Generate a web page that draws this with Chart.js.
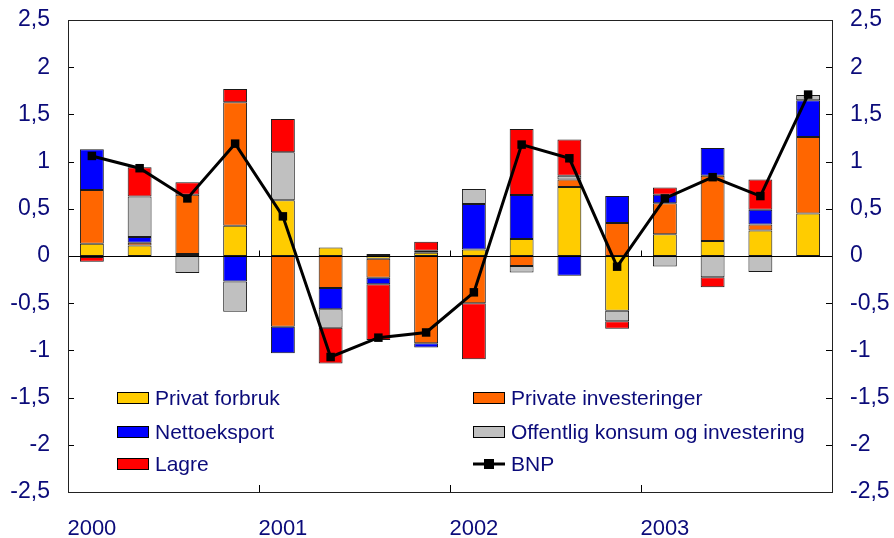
<!DOCTYPE html>
<html>
<head>
<meta charset="utf-8">
<script src="https://cdn.jsdelivr.net/npm/chart.js@4/dist/chart.umd.min.js"></script>
<style>
  html, body { margin: 0; padding: 0; background: #fff; }
  #wrap { width: 894px; height: 538px; }
</style>
</head>
<body>
<div id="wrap"><canvas id="bnpChart" width="894" height="538"></canvas></div>
<script>
// kvartaler 2000-2003
var kvartaler = ['2000K1','2000K2','2000K3','2000K4','2001K1','2001K2','2001K3','2001K4',
                 '2002K1','2002K2','2002K3','2002K4','2003K1','2003K2','2003K3','2003K4'];

// bidrag til BNP-vekst (prosentpoeng)
var privatForbruk = [0.13, 0.11, 0.02, 0.32, 0.59, 0.09, -0.03, 0.035, 0.07, 0.18, 0.73, -0.58, 0.23, 0.16, 0.27, 0.45];
var privateInv    = [0.57, 0.03, 0.63, 1.31, -0.75, -0.34, -0.20, -0.925, -0.50, -0.106, 0.08, 0.35, 0.33, 0.69, 0.065, 0.81];
var nettoeksport  = [0.43, 0.06, 0, -0.27, -0.28, -0.225, -0.07, -0.045, 0.48, 0.465, -0.21, 0.285, 0.09, 0.295, 0.155, 0.39];
var offentlig     = [-0.01, 0.43, -0.18, -0.32, 0.51, -0.195, 0.02, 0.02, 0.16, -0.07, 0.04, -0.11, -0.11, -0.225, -0.17, 0.055];
var lagre         = [-0.05, 0.31, 0.13, 0.14, 0.35, -0.38, -0.59, 0.095, -0.595, 0.70, 0.385, -0.08, 0.075, -0.105, 0.32, 0];
var bnp           = [1.06, 0.93, 0.61, 1.19, 0.42, -1.07, -0.865, -0.81, -0.385, 1.18, 1.035, -0.113, 0.61, 0.835, 0.635, 1.71];

var yTicks = [-2.5, -2, -1.5, -1, -0.5, 0, 0.5, 1, 1.5, 2, 2.5];

var navy = '#0b0b7a';
var fontFam = '"Liberation Sans", Arial, sans-serif';

function bar(label, data, color) {
  return {
    type: 'bar', label: label, data: data, backgroundColor: color,
    borderColor: '#1a1a1a', borderWidth: 1, borderSkipped: false,
    stack: 's', barPercentage: 0.5, categoryPercentage: 1, order: 2
  };
}

// tegner ramme, tikkmerker og forklaring
var tegnPlugin = {
  id: 'tegn',
  afterDatasetsDraw: function (chart) {
    var c = chart.ctx, a = chart.chartArea;
    var x = chart.scales.x, y = chart.scales.y;
    c.save();
    c.strokeStyle = '#000';
    c.lineWidth = 1;
    var y0 = Math.round(y.getPixelForValue(0)) + 0.5;
    // tikk paa venstre og hoyre akse
    yTicks.forEach(function (v) {
      var py = Math.round(y.getPixelForValue(v)) + 0.5;
      c.beginPath();
      c.moveTo(a.left, py); c.lineTo(a.left + 6, py);
      c.moveTo(a.right, py); c.lineTo(a.right - 6, py);
      c.stroke();
    });
    // aarsgrenser
    for (var i = 4; i < kvartaler.length; i += 4) {
      var px = Math.round((x.getPixelForValue(i - 1) + x.getPixelForValue(i)) / 2) + 0.5;
      c.beginPath();
      c.moveTo(px, a.bottom); c.lineTo(px, a.bottom - 7);
      c.moveTo(px, y0); c.lineTo(px, y0 - 6);
      c.stroke();
    }
    c.beginPath();
    c.moveTo(a.left, y0); c.lineTo(a.right, y0);
    c.stroke();
    c.strokeStyle = '#222';
    c.strokeRect(Math.round(a.left) + 0.5, Math.round(a.top) + 0.5,
                 Math.round(a.right - a.left), Math.round(a.bottom - a.top));
    c.restore();
  },
  afterDraw: function (chart) {
    var c = chart.ctx;
    var ds = chart.data.datasets;
    var items = [
      [ds[0], 117, 398], [ds[1], 473, 398],
      [ds[2], 117, 432], [ds[3], 473, 432],
      [ds[4], 117, 464], [ds[5], 473, 464]
    ];
    c.save();
    c.font = '21px ' + fontFam;
    c.textBaseline = 'middle';
    c.fillStyle = navy;
    items.forEach(function (it) {
      var d = it[0], lx = it[1], ly = it[2];
      if (d.type === 'line') {
        c.strokeStyle = '#000';
        c.lineWidth = 3;
        c.beginPath(); c.moveTo(lx, ly); c.lineTo(lx + 32, ly); c.stroke();
        c.fillStyle = '#000';
        c.fillRect(lx + 11, ly - 5, 10, 10);
      } else {
        c.fillStyle = d.backgroundColor;
        c.fillRect(lx, ly - 6, 32, 12);
        c.strokeStyle = '#000';
        c.lineWidth = 1;
        c.strokeRect(lx + 0.5, ly - 5.5, 31, 11);
      }
      c.fillStyle = navy;
      c.fillText(d.label, lx + 38, ly + 1);
    });
    c.restore();
  }
};

function fastBredde(w) {
  return function (s) {
    s.width = w;
    s.paddingTop = 0;
    s.paddingBottom = 0;
  };
}

var ctx = document.getElementById('bnpChart').getContext('2d');
new Chart(ctx, {
  data: {
    labels: kvartaler,
    datasets: [
      bar('Privat forbruk', privatForbruk, '#ffcc00'),
      bar('Private investeringer', privateInv, '#ff6600'),
      bar('Nettoeksport', nettoeksport, '#0000ff'),
      bar('Offentlig konsum og investering', offentlig, '#c0c0c0'),
      bar('Lagre', lagre, '#ff0000'),
      {
        type: 'line', label: 'BNP', data: bnp, order: 1,
        borderColor: '#000', borderWidth: 3, tension: 0,
        pointStyle: 'rect', pointRadius: 6, pointBackgroundColor: '#000',
        pointBorderColor: '#000', pointBorderWidth: 0
      }
    ]
  },
  options: {
    responsive: false,
    animation: false,
    devicePixelRatio: 1,
    layout: { autoPadding: false, padding: { top: 20, bottom: 0, left: 0, right: 0 } },
    plugins: { legend: { display: false }, tooltip: { enabled: false } },
    scales: {
      x: {
        stacked: true,
        offset: true,
        grid: { display: false, drawTicks: false },
        border: { display: false },
        ticks: {
          autoSkip: false, maxRotation: 0, padding: 24,
          color: navy, font: { family: fontFam, size: 22 },
          callback: function (v, i) { return i % 4 === 0 ? kvartaler[i].slice(0, 4) : ''; }
        },
        afterFit: function (s) { s.height = 46; s.paddingLeft = 0; s.paddingRight = 0; }
      },
      y: {
        stacked: true,
        position: 'left',
        min: -2.5, max: 2.5,
        grid: { display: false, drawTicks: false },
        border: { display: false },
        ticks: {
          stepSize: 0.5, autoSkip: false, padding: 18, color: navy,
          font: { family: fontFam, size: 23, lineHeight: 1 },
          callback: function (v) { return String(v).replace('.', ','); }
        },
        afterFit: fastBredde(68)
      },
      y2: {
        position: 'right',
        min: -2.5, max: 2.5,
        grid: { display: false, drawTicks: false },
        border: { display: false },
        ticks: {
          stepSize: 0.5, autoSkip: false, padding: 18, color: navy,
          font: { family: fontFam, size: 23, lineHeight: 1 },
          callback: function (v) { return String(v).replace('.', ','); }
        },
        afterFit: fastBredde(62)
      }
    }
  },
  plugins: [tegnPlugin]
});
</script>
</body>
</html>
